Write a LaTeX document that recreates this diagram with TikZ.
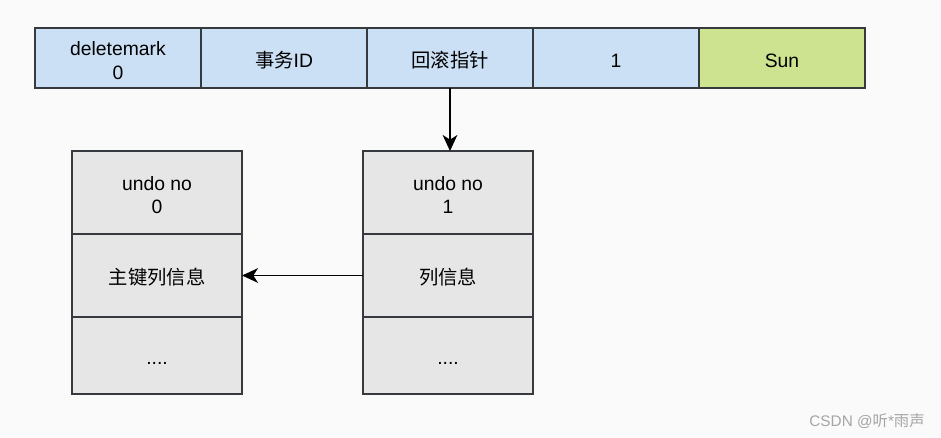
\documentclass[tikz,border=0pt]{standalone}
\usepackage{fontspec}
\setmainfont{Liberation Sans}
\newfontfamily\cjk{Noto Sans CJK SC}
\usetikzlibrary{positioning,arrows.meta}
\definecolor{rowblue}{RGB}{204,224,245}
\definecolor{rowgreen}{RGB}{205,227,143}
\definecolor{undogray}{RGB}{230,230,230}
\definecolor{edgegray}{RGB}{54,57,61}
\definecolor{bggray}{RGB}{250,250,250}
\definecolor{creditgray}{RGB}{165,165,165}
% struts to sit the text a little low in each cell
\newcommand{\oneline}{\rule[-2pt]{0pt}{18pt}}
\newcommand{\twoline}{\rule{0pt}{14.5pt}}

\begin{document}
\begin{tikzpicture}[x=0.75pt, y=-0.75pt,
    cell/.style={draw=edgegray, line width=1.1pt, fill=rowblue,
      minimum width=124.5pt, minimum height=45pt, inner sep=0pt,
      outer sep=0pt, align=center, font=\fontsize{14.5}{17.5}\selectfont},
    undocell/.style={cell, fill=undogray, minimum width=127.5pt,
      minimum height=62.25pt},
    link/.style={line width=1.2pt,
      -{Stealth[length=12pt, width=11pt, inset=3.5pt]}}]
                    % Background
                    \fill [bggray] (0,0) rectangle (941,438);
                    % Row record
                    \node [cell] (mark) at (118,58) {\twoline deletemark\\0};
                    \node [cell, right=0pt of mark] (trx) {\oneline{\cjk 事务}ID};
                    \node [cell, right=0pt of trx] (roll) {\oneline{\cjk 回滚指针}};
                    \node [cell, right=0pt of roll] (id) {\oneline 1};
                    \node [cell, right=0pt of id, fill=rowgreen] (name) {\oneline Sun};
                    % Undo log 0
                    \node [undocell] (undo0) at (157,192.5) {\twoline undo no\\0};
                    \node [undocell, below=0pt of undo0] (info0) {\oneline{\cjk 主键列信息}};
                    \node [undocell, below=0pt of info0, minimum height=57.75pt] (more0) {\oneline ....};
                    % Undo log 1
                    \node [undocell] (undo1) at (448,192.5) {\twoline undo no\\1};
                    \node [undocell, below=0pt of undo1] (info1) {\oneline{\cjk 列信息}};
                    \node [undocell, below=0pt of info1, minimum height=57.75pt] (more1) {\oneline ....};
                    % Pointers
                    \draw [link] (roll.south) -- (roll.south |- undo1.north);
                    \draw [link] (info1.west) -- (info0.east);
                    % Watermark
                    \node [text=creditgray, font=\fontsize{11.5}{13}\selectfont]
                      (credit) at (867,421) {CSDN @{\cjk 听}*{\cjk 雨声}};
                \end{tikzpicture}
\end{document}
